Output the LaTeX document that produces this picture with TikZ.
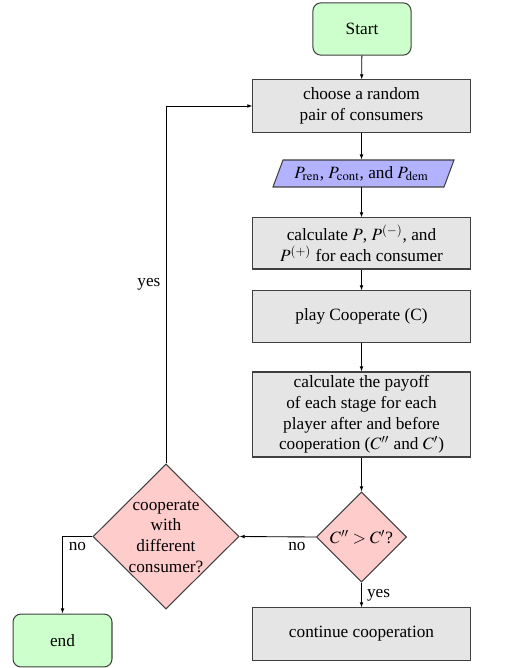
\documentclass[tikz,border=0pt]{standalone}
\usepackage{mathptmx}
\usepackage{fontspec}
\setmainfont{Liberation Serif}
\usetikzlibrary{shapes.geometric,arrows.meta}
\begin{document}
\begin{tikzpicture}[x=0.58pt,y=-0.58pt,
  font=\fontsize{10}{12}\selectfont,
  every node/.style={inner sep=2pt},
  procbox/.style={rectangle,draw=black!75,line width=0.6pt,fill=black!10,
    minimum width=125.9pt,align=center},
  termbox/.style={rectangle,rounded corners=4.6pt,draw=black!75,line width=0.6pt,
    fill=green!20,minimum width=56.9pt,minimum height=30.3pt},
  decbox/.style={diamond,aspect=1,draw=black!75,line width=0.6pt,fill=red!20,inner sep=0pt},
  iobox/.style={draw=black!75,line width=0.6pt,fill=blue!30},
  conn/.style={line width=0.5pt,-{Latex[length=3pt,width=2.2pt]}},
  lbl/.style={inner sep=3pt}]
\useasboundingbox (0,0) rectangle (522,668);
% nodes
\node[termbox] (start) at (362,29) {Start};
\node[procbox,minimum height=30.2pt] (b1) at (361.5,106) {choose a random\\pair of consumers};
\draw[iobox] (283,160) -- (454,160) -- (444,187) -- (273,187) -- cycle;
\node[minimum height=15.7pt,inner sep=0pt] (par) at (361.5,173.5) {$P_{\mathrm{ren}}$, $P_{\mathrm{cont}}$, and $P_{\mathrm{dem}}$};
\node[procbox,minimum height=29.6pt] (b2) at (361.5,243.5) {calculate $P$, $P^{(-)}$, and\\$P^{(+)}$ for each consumer};
\node[procbox,minimum height=29.6pt] (b3) at (361.5,316.5) {play Cooperate (C)};
\node[procbox,minimum height=49.3pt] (b4) at (361.5,414.5) {calculate the payoff\\of each stage for each\\player after and before\\cooperation ($C''$ and $C'$)};
\node[decbox,minimum width=52.2pt,minimum height=52.2pt] (d1) at (361.5,537) {};
\node (d1t) at (d1) {$C''>C'$?};
\node[procbox,minimum height=30.2pt] (b5) at (361.5,634) {continue cooperation};
\node[decbox,minimum width=84.7pt,minimum height=84.1pt] (d2) at (166,536.5) {};
\node[align=center] (d2t) at (d2) {cooperate\\with\\different\\consumer?};
\node[termbox,minimum width=57.4pt,minimum height=30.7pt] (end) at (62.5,640.5) {end};
% connectors
\draw[conn] (start) -- (b1);
\draw[conn] (b1) -- (par);
\draw[conn] (par) -- (b2);
\draw[conn] (b2) -- (b3);
\draw[conn] (b3) -- (b4);
\draw[conn] (b4) -- (d1);
\draw[conn] (d1.south) -- node[lbl,right] {yes} (b5.north);
\draw[conn] (d1.west) -- node[lbl,below,pos=0.25] {no} (d2.east);
\draw[conn] (d2.north) |- node[lbl,left,pos=0.25] {yes} (b1.west);
\draw[conn] (d2.west) -| node[lbl,below,pos=0.25] {no} (end.north);
\end{tikzpicture}
\end{document}
